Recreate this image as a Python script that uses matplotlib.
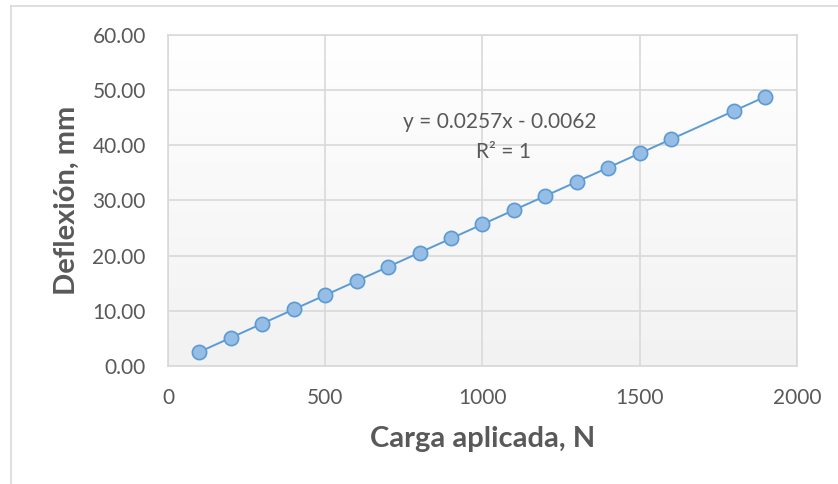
import numpy as np
import matplotlib
matplotlib.use('Agg')
import matplotlib.pyplot as plt
from matplotlib.lines import Line2D

# Datos
carga = [100, 200, 300, 400, 500, 600, 700, 800, 900, 1000,
         1100, 1200, 1300, 1400, 1500, 1600, 1800, 1900]
deflexion = [2.56, 5.13, 7.70, 10.27, 12.84, 15.41, 17.98, 20.55, 23.12, 25.69,
             28.26, 30.83, 33.40, 35.97, 38.54, 41.11, 46.25, 48.82]
xticks = [0, 500, 1000, 1500, 2000]
yticks = [0, 10, 20, 30, 40, 50, 60]
ecuacion = 'y = 0.0257x - 0.0062'
r2 = 'R² = 1'

plt.rcParams['font.family'] = ['Lato', 'DejaVu Sans']
txt = '#595959'
grid = '#D9D9D9'

fig = plt.figure(figsize=(8.38, 4.84), dpi=100)
ax = fig.add_axes([0.2005, 0.2438, 0.7505, 0.6839])

# fondo con degradado
grad = np.linspace(1, 0, 256).reshape(-1, 1)
ax.imshow(grad, extent=[0, 1, 0, 1], transform=ax.transAxes, aspect='auto',
          cmap=matplotlib.colors.LinearSegmentedColormap.from_list('g', ['#F2F2F2', '#FFFFFF']),
          zorder=0)

# linea de tendencia
m, b = np.polyfit(carga, deflexion, 1)
xt = np.array([min(carga), max(carga)])
ax.plot(xt, m * xt + b, color='#5B9BD5', lw=1.4, zorder=2)
ax.scatter(carga, deflexion, s=105, color='#95BDE5', edgecolors='#5B9BD5',
           linewidths=1.2, zorder=3)

ax.set_xlim(0, 2000)
ax.set_ylim(0, 60)
ax.set_xticks(xticks)
ax.set_yticks(yticks)
ax.set_yticklabels([f'{v:.2f}' for v in yticks])
ax.tick_params(length=0, labelsize=15, colors=txt)
ax.tick_params(axis='x', pad=16)
ax.tick_params(axis='y', pad=16)
ax.grid(True, color=grid, lw=1.2, zorder=1)
ax.set_axisbelow(True)
for s in ax.spines.values():
    s.set_color(grid)
    s.set_linewidth(1.2)

ax.set_xlabel('Carga aplicada, N', fontsize=21, fontweight='bold', color=txt, labelpad=13)
ax.set_ylabel('Deflexión, mm', fontsize=21, fontweight='bold', color=txt)
ax.yaxis.set_label_coords(-0.14, 0.5)

ax.text(1054, 44.2, ecuacion, ha='center', va='center', fontsize=15, color=txt)
ax.text(1068, 38.8, r2, ha='center', va='center', fontsize=15, color=txt)

# borde del area del grafico
fig.add_artist(Line2D([11/838, 11/838], [0, 1 - 6/484], color=grid, lw=1.2))
fig.add_artist(Line2D([11/838, 1], [1 - 6/484, 1 - 6/484], color=grid, lw=1.2))

fig.savefig('out.png', dpi=100)
